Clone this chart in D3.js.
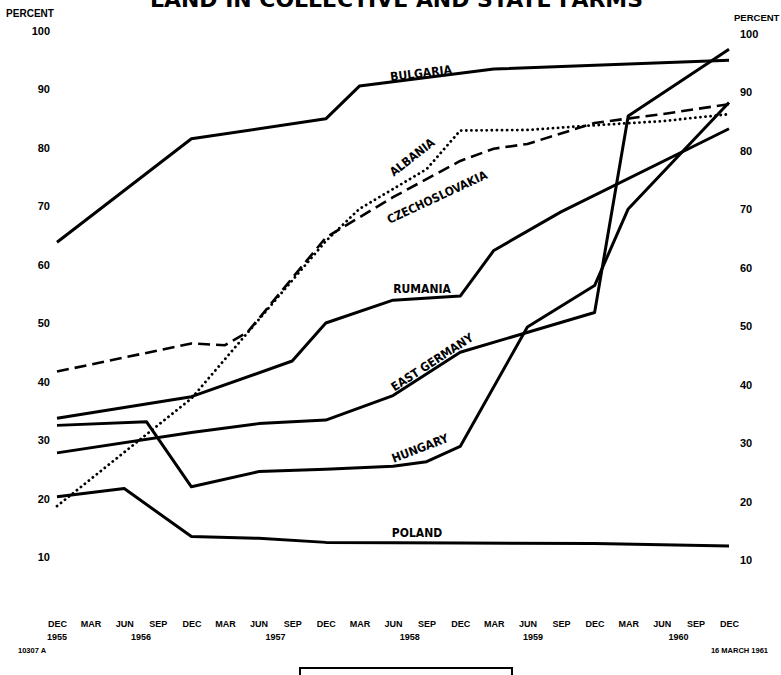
<!DOCTYPE html>
<html>
<head>
<meta charset="utf-8">
<script src="https://cdn.jsdelivr.net/npm/d3@7"></script>
<style>
  body { margin: 0; background: #fff; }
  svg { display: block; }
  .tick-label { font-family: 'Liberation Sans', Arial, sans-serif; font-weight: bold; fill: #000; }
  .country { font-family: 'Liberation Sans Narrow', 'DejaVu Sans Condensed', sans-serif; font-weight: bold; font-size: 12px; }
</style>
</head>
<body>
<div id="chart"></div>
<script>
'use strict'

const WIDTH = 781
const HEIGHT = 675

// x values are months counted from DEC 1955
const monthLabels = [
  'DEC', 'MAR', 'JUN', 'SEP',
  'DEC', 'MAR', 'JUN', 'SEP',
  'DEC', 'MAR', 'JUN', 'SEP',
  'DEC', 'MAR', 'JUN', 'SEP',
  'DEC', 'MAR', 'JUN', 'SEP',
  'DEC'
]
const yearLabels = ['1955', '1956', '1957', '1958', '1959', '1960']
const yearMonths = [0, 7.5, 19.5, 31.5, 42.5, 55.5]
const percentTicks = [10, 20, 30, 40, 50, 60, 70, 80, 90, 100]

const bulgaria = [[0, 63.8], [12, 81.5], [24, 84.9], [27, 90.5], [39, 93.4], [60, 94.9]]
const albania = [[0, 18.7], [12, 37.1], [24, 64.0], [27, 69.5], [33, 76.3], [36, 82.9], [42, 83.0], [48, 83.8], [54, 84.5], [60, 85.7]]
const czechoslovakia = [[0, 41.7], [12, 46.5], [15, 46.2], [17, 48.4], [24, 64.6], [30, 71.5], [36, 77.7], [39, 79.8], [42, 80.6], [48, 84.2], [54, 85.7], [60, 87.4]]
const rumania = [[0, 33.7], [12, 37.4], [21, 43.5], [24, 50.0], [30, 53.9], [36, 54.6], [39, 62.4], [45, 69.0], [60, 83.2]]
const eastGermany = [[0, 27.8], [12, 31.3], [18, 32.8], [24, 33.4], [30, 37.6], [36, 45.0], [48, 51.8], [51, 85.4], [60, 96.8]]
const hungary = [[0, 32.5], [8, 33.1], [12, 22.0], [18, 24.6], [24, 25.0], [30, 25.5], [33, 26.3], [36, 28.9], [42, 49.3], [48, 56.4], [51, 69.5], [60, 87.7]]
const poland = [[0, 20.3], [6, 21.7], [12, 13.5], [18, 13.2], [24, 12.5], [36, 12.4], [48, 12.3], [60, 11.9]]

const series = [
  { name: 'BULGARIA', values: bulgaria, style: 'solid', label: [421, 73, -7] },
  { name: 'ALBANIA', values: albania, style: 'dotted', label: [412, 157, -38] },
  { name: 'CZECHOSLOVAKIA', values: czechoslovakia, style: 'dashed', label: [437, 197, -25] },
  { name: 'RUMANIA', values: rumania, style: 'solid', label: [422, 289, 0] },
  { name: 'EAST GERMANY', values: eastGermany, style: 'solid', label: [432, 362, -33] },
  { name: 'HUNGARY', values: hungary, style: 'solid', label: [420, 448, -21] },
  { name: 'POLAND', values: poland, style: 'solid', label: [417, 533, 0] }
]

const x = d3.scaleLinear().domain([0, 60]).range([57, 729])
const y = d3.scaleLinear().domain([10, 100]).range([557, 30.5])

const svg = d3.select('#chart')
  .append('svg')
  .attr('width', WIDTH)
  .attr('height', HEIGHT)

// title, cut off at the top edge of the page like the original
svg.append('text')
  .attr('x', 150)
  .attr('y', 7)
  .attr('textLength', 493)
  .attr('lengthAdjust', 'spacingAndGlyphs')
  .style('font-family', "'DejaVu Sans', sans-serif")
  .style('font-weight', 'bold')
  .style('font-size', '22px')
  .text('LAND IN COLLECTIVE AND STATE FARMS')

// percent axes on both sides
const leftAxis = svg.append('g')
  .attr('transform', 'translate(50, 0)')
  .call(d3.axisLeft(y).tickValues(percentTicks).tickSize(0).tickPadding(0))
const rightAxis = svg.append('g')
  .attr('transform', 'translate(740, 3)')
  .call(d3.axisRight(y).tickValues(percentTicks).tickSize(0).tickPadding(0))
;[leftAxis, rightAxis].forEach((g) => {
  g.select('.domain').remove()
  g.selectAll('text').attr('class', 'tick-label').style('font-size', '11px')
})

svg.append('text')
  .attr('class', 'tick-label')
  .attr('x', 30)
  .attr('y', 17)
  .attr('text-anchor', 'middle')
  .style('font-size', '10px')
  .text('PERCENT')
svg.append('text')
  .attr('class', 'tick-label')
  .attr('x', 734)
  .attr('y', 21)
  .style('font-size', '9.5px')
  .text('PERCENT')

// month axis
const bottomAxis = svg.append('g')
  .attr('transform', 'translate(0, 621)')
  .call(d3.axisBottom(x)
    .tickValues(monthLabels.map((d, i) => i * 3))
    .tickFormat((d, i) => monthLabels[i])
    .tickSize(0)
    .tickPadding(0))
bottomAxis.select('.domain').remove()
bottomAxis.selectAll('text').attr('class', 'tick-label').style('font-size', '9px')

svg.append('g')
  .selectAll('text')
  .data(yearLabels)
  .enter()
  .append('text')
  .attr('class', 'tick-label')
  .attr('x', (d, i) => x(yearMonths[i]))
  .attr('y', 639.5)
  .attr('text-anchor', 'middle')
  .style('font-size', '9px')
  .text((d) => d)

// lines
const line = d3.line()
  .x((d) => x(d[0]))
  .y((d) => y(d[1]))

const dash = { solid: null, dashed: '12 6', dotted: '0.1 5' }

svg.append('g')
  .selectAll('path')
  .data(series)
  .enter()
  .append('path')
  .attr('d', (d) => line(d.values))
  .attr('fill', 'none')
  .attr('stroke', '#000')
  .attr('stroke-width', (d) => d.style === 'dotted' ? 2.8 : (d.style === 'dashed' ? 2.6 : 3))
  .attr('stroke-linejoin', 'round')
  .attr('stroke-linecap', (d) => d.style === 'dotted' ? 'round' : 'butt')
  .attr('stroke-dasharray', (d) => dash[d.style])

svg.append('g')
  .selectAll('text')
  .data(series)
  .enter()
  .append('text')
  .attr('class', 'country')
  .attr('transform', (d) => `translate(${d.label[0]}, ${d.label[1]}) rotate(${d.label[2]})`)
  .attr('text-anchor', 'middle')
  .attr('dy', '0.36em')
  .text((d) => d.name)

// footer
svg.append('text')
  .attr('class', 'tick-label')
  .attr('x', 18)
  .attr('y', 653)
  .style('font-size', '7.5px')
  .text('10307 A')
svg.append('text')
  .attr('class', 'tick-label')
  .attr('x', 768)
  .attr('y', 653)
  .attr('text-anchor', 'end')
  .style('font-size', '7.5px')
  .text('16  MARCH 1961')

svg.append('rect')
  .attr('x', 300)
  .attr('y', 668)
  .attr('width', 212)
  .attr('height', 20)
  .attr('fill', 'none')
  .attr('stroke', '#000')
  .attr('stroke-width', 2)
</script>
</body>
</html>
